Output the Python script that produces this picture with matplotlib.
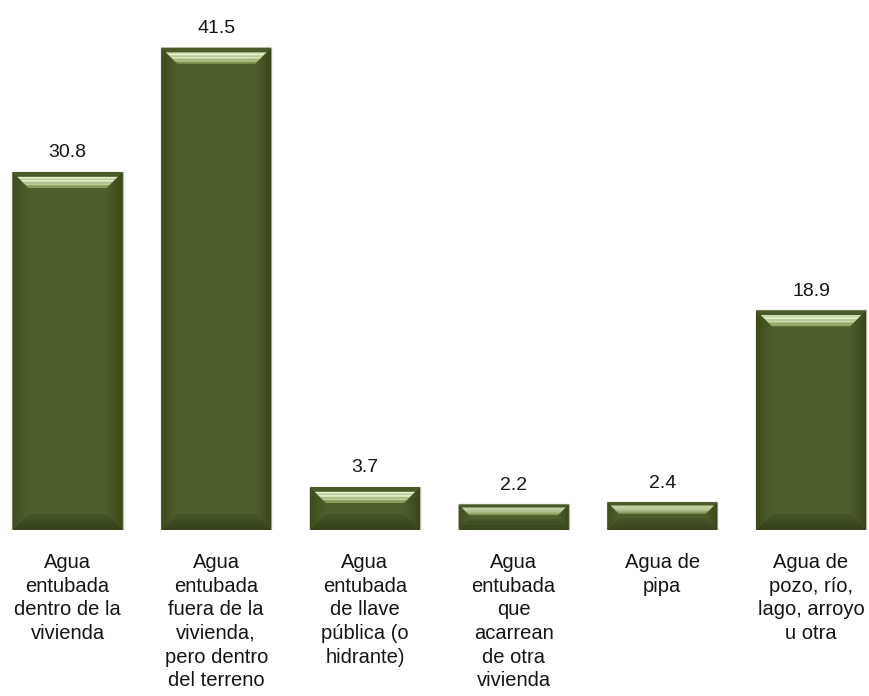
import matplotlib
matplotlib.use("Agg")
import matplotlib.pyplot as plt
from matplotlib.colors import to_rgb
from matplotlib.patches import Polygon

plt.rcParams['font.family'] = ['Liberation Sans', 'DejaVu Sans']

categories = [
    "Agua\nentubada\ndentro de la\nvivienda",
    "Agua\nentubada\nfuera de la\nvivienda,\npero dentro\ndel terreno",
    "Agua\nentubada\nde llave\npública (o\nhidrante)",
    "Agua\nentubada\nque\nacarrean\nde otra\nvivienda",
    "Agua de\npipa",
    "Agua de\npozo, río,\nlago, arroyo\nu otra",
]
values = [30.8, 41.5, 3.7, 2.2, 2.4, 18.9]

MAIN = '#4f5f2b'
W, H, DPI = 869, 696, 100
AX_BOTTOM = 166 / H
fig = plt.figure(figsize=(W / DPI, H / DPI), dpi=DPI)
ax = fig.add_axes([0, AX_BOTTOM, 1, 1 - AX_BOTTOM])
ax.set_xlim(-0.454, 5.39)
ax.set_ylim(0, 45.6)
ax.axis('off')

x = list(range(len(values)))
bars = ax.bar(x, values, width=0.74, color=MAIN, edgecolor='#b9bcae', linewidth=1.0, zorder=1)

# data units per pixel, used for the bevel
px_x = (ax.get_xlim()[1] - ax.get_xlim()[0]) / W
px_y = (ax.get_ylim()[1] - ax.get_ylim()[0]) / (H * (1 - AX_BOTTOM))


def mix(c1, c2, t):
    a, b = to_rgb(c1), to_rgb(c2)
    return tuple(a[i] + (b[i] - a[i]) * t for i in range(3))


def band(x0, y0, x1, y1, side, a, b, d, color):
    # one mitred strip of the bevel between insets a and b (fractions of d)
    ax_, bx_ = a * d * px_x, b * d * px_x
    ay_, by_ = a * d * px_y, b * d * px_y
    if side == 'left':
        pts = [(x0 + ax_, y0 + ay_), (x0 + bx_, y0 + by_), (x0 + bx_, y1 - by_), (x0 + ax_, y1 - ay_)]
    elif side == 'right':
        pts = [(x1 - ax_, y0 + ay_), (x1 - bx_, y0 + by_), (x1 - bx_, y1 - by_), (x1 - ax_, y1 - ay_)]
    elif side == 'bottom':
        pts = [(x0 + ax_, y0 + ay_), (x1 - ax_, y0 + ay_), (x1 - bx_, y0 + by_), (x0 + bx_, y0 + by_)]
    else:
        pts = [(x0 + ax_, y1 - ay_), (x1 - ax_, y1 - ay_), (x1 - bx_, y1 - by_), (x0 + bx_, y1 - by_)]
    ax.add_patch(Polygon(pts, closed=True, color=color, lw=0, zorder=2, antialiased=True))


n = 8
for b in bars:
    x0, y0 = b.get_x(), b.get_y()
    x1, y1 = x0 + b.get_width(), y0 + b.get_height()
    d = min(16, b.get_height() / px_y / 2.4)
    for i in range(n):
        t0, t1 = i / n, (i + 1) / n
        band(x0, y0, x1, y1, 'left', t0, t1, d, mix('#3d4a1c', MAIN, t0))
        band(x0, y0, x1, y1, 'right', t0, t1, d, mix('#3a461a', MAIN, t0))
        band(x0, y0, x1, y1, 'bottom', t0, t1, d, mix('#354119', '#465525', t0))
    # top bevel: dark rim, then a light highlight fading toward the face
    band(x0, y0, x1, y1, 'top', 0, 0.3, d, '#4a5a26')
    for i in range(n):
        t0 = 0.3 + 0.7 * i / n
        t1 = 0.3 + 0.7 * (i + 1) / n
        band(x0, y0, x1, y1, 'top', t0, t1, d, mix('#e6f3c8', '#8aa058', (i / (n - 1)) ** 2.2))
    ax.annotate(f"{b.get_height():.1f}", (b.get_x() + b.get_width() / 2, y1),
                xytext=(0, 10.5), textcoords='offset points', ha='center', va='baseline',
                fontsize=14, color='#151515')

for xi, lab in zip(x, categories):
    ax.annotate(lab, (xi, 0), xytext=(0, -16.5), textcoords='offset points',
                ha='center', va='top', fontsize=14.5, color='#151515', linespacing=1.31,
                annotation_clip=False)

fig.savefig('out.png', dpi=DPI)
